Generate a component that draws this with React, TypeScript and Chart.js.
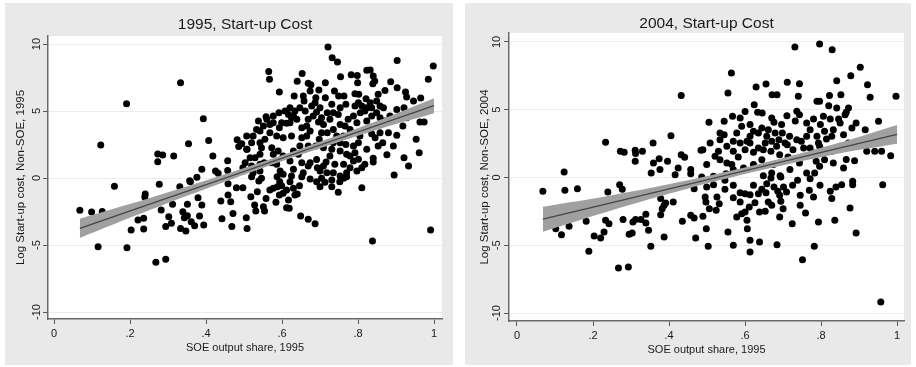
import React, { useEffect, useRef } from 'react';
import { Chart, registerables } from 'chart.js';

Chart.register(...registerables);

const FONT = "'Liberation Sans', Arial, Helvetica, sans-serif";

const xTickValues = [0, 0.2, 0.4, 0.6, 0.8, 1];
const yTickValues = [-10, -5, 0, 5, 10];

const titles = ['1995, Start-up Cost', '2004, Start-up Cost'];
const yTitles = ['Log Start-up cost, Non-SOE, 1995', 'Log Start-up cost, Non-SOE, 2004'];
const xTitle = 'SOE output share, 1995';

// 1995 panel: [SOE output share, log start-up cost]
const points1995: [number, number][] = [
  [0.333, 7.11], [0.191, 5.54], [0.123, 2.46], [0.393, 4.43], [0.354, 2.56], [0.407, 2.81], [0.482, 2.86], [0.486, 2.36],
  [0.273, 1.79], [0.286, 1.72], [0.273, 1.22], [0.315, 1.64], [0.418, 1.64], [0.457, 1.29], [0.389, 0.65], [0.425, 0.52],
  [0.432, 0.35], [0.457, 0.57], [0.497, 0.77], [0.508, 2.14], [0.376, 0.05], [0.357, -0.2],
  [0.068, -2.41], [0.099, -2.54], [0.127, -2.49], [0.159, -0.62], [0.116, -5.12], [0.192, -5.2], [0.268, -6.29], [0.294, -6.07],
  [0.277, -0.47], [0.24, -1.19], [0.239, -1.42], [0.203, -3.88], [0.236, -3.81], [0.221, -3.13], [0.236, -3.01], [0.282, -2.39],
  [0.294, -3.61], [0.302, -2.89], [0.309, -3.38], [0.312, -1.96], [0.331, -0.65], [0.333, -3.76], [0.347, -3.96], [0.339, -2.51],
  [0.343, -2.96], [0.351, -2.81], [0.351, -1.96], [0.359, -0.27], [0.361, -3.26], [0.37, -3.56], [0.379, -1.47], [0.389, -2.01],
  [0.383, -2.84], [0.394, -3.51], [0.439, -1.72], [0.442, -3.04], [0.458, -0.43], [0.458, -1.27], [0.465, -1.77], [0.471, -2.64],
  [0.468, -3.61], [0.48, -0.72], [0.497, -0.72], [0.506, -2.96], [0.508, -3.76],
  [0.518, -1.39], [0.528, -2.01], [0.531, -2.46], [0.551, -2.14], [0.554, -2.46], [0.535, -1.02], [0.539, -0.22], [0.558, -1.52],
  [0.568, -0.9], [0.584, -1.81], [0.593, -1.27], [0.599, -0.57], [0.612, -0.9], [0.612, -2.21], [0.617, -1.64], [0.619, -2.26],
  [0.63, -0.77], [0.64, -1.19], [0.646, -0.57], [0.649, -2.84], [0.669, -3.08], [0.687, -3.41], [0.674, -0.07], [0.691, -0.27],
  [0.7, -0.65], [0.731, -0.15], [0.731, -0.65], [0.748, -1.07], [0.762, -0.02], [0.77, 0.1], [0.81, -0.72], [0.838, -4.7],
  [0.991, -3.88],
  [0.52, 0.1], [0.546, -0.02], [0.587, 0.1], [0.594, -0.27], [0.621, -0.27], [0.652, 0.1], [0.704, -0.02], [0.713, -0.32],
  [0.752, -0.27], [0.588, -0.65], [0.603, -1.14], [0.634, -1.27], [0.577, -0.77],
  [0.721, 9.78], [0.732, 8.98], [0.746, 8.66], [0.903, 8.78], [0.998, 8.36], [0.985, 7.37], [0.565, 7.96], [0.567, 7.37],
  [0.653, 7.81], [0.593, 6.42], [0.64, 7.22], [0.669, 7.07], [0.676, 6.96], [0.674, 6.49], [0.697, 6.57], [0.714, 7.11],
  [0.632, 6.12], [0.656, 6.12], [0.658, 5.75], [0.689, 5.99], [0.714, 5.99], [0.738, 6.49], [0.749, 6.12], [0.763, 6.12],
  [0.754, 7.56], [0.782, 7.71], [0.798, 7.66], [0.823, 8.04], [0.832, 8.06], [0.84, 7.61], [0.844, 7.24], [0.839, 7.04],
  [0.799, 7.11], [0.792, 6.29], [0.802, 6.25], [0.821, 5.92], [0.853, 6.25], [0.871, 6.54], [0.886, 7.19], [0.903, 6.74],
  [0.925, 6.42], [0.928, 6.04], [0.946, 5.75], [0.965, 5.97], [0.849, 5.75], [0.858, 5.37], [0.867, 5.25], [0.921, 5.25],
  [0.963, 4.18], [0.974, 4.18], [0.953, 2.89], [0.961, 1.89], [0.921, 1.51], [0.933, 0.9], [0.895, 0.22], [0.876, 1.74],
  [0.902, 3.19], [0.918, 3.88], [0.84, 1.47], [0.853, 2.39], [0.865, 2.63], [0.823, 2.14], [0.818, 1.02], [0.84, 1.19],
  [0.836, 3.31], [0.845, 3.01], [0.805, 3.13], [0.801, 2.63], [0.792, 1.89], [0.779, 1.64], [0.801, 1.4], [0.797, 0.52],
  [0.81, 0.77], [0.779, 0.77], [0.77, 0.4], [0.753, 0.15], [0.735, 0.4], [0.739, 1.02], [0.716, 1.19], [0.718, 0.4],
  [0.7, 0.52], [0.693, 0.77], [0.674, 1.14], [0.652, 1.14], [0.656, 0.4], [0.63, 0.65], [0.625, 0.15], [0.603, 0.28],
  [0.595, 0.52], [0.573, 1.14], [0.577, 1.77], [0.59, 2.01], [0.542, 0.52], [0.524, 0.4], [0.498, 0.52], [0.516, 1.51],
  [0.529, 1.51], [0.507, 2.14], [0.542, 2.63], [0.546, 2.26], [0.573, 2.26], [0.542, 3.51], [0.551, 3.88], [0.56, 4.38],
  [0.538, 4.25], [0.533, 3.63], [0.558, 4.57], [0.577, 4.13], [0.599, 4.13], [0.603, 3.01], [0.621, 4.13], [0.63, 4.63],
  [0.621, 5.25], [0.634, 5.0], [0.617, 4.75], [0.639, 4.38], [0.652, 3.75], [0.665, 3.88], [0.674, 3.51], [0.665, 3.13],
  [0.669, 2.39], [0.647, 2.39], [0.625, 3.13], [0.643, 1.77], [0.678, 5.37], [0.687, 5.62], [0.7, 5.25], [0.691, 4.93],
  [0.704, 4.5], [0.719, 4.87], [0.726, 4.38], [0.704, 3.38], [0.719, 3.38], [0.698, 2.89], [0.689, 2.39], [0.709, 2.26],
  [0.731, 2.14], [0.726, 1.64], [0.748, 4.75], [0.753, 4.0], [0.766, 3.88], [0.774, 4.38], [0.788, 4.63], [0.792, 5.37],
  [0.801, 5.62], [0.81, 5.37], [0.818, 5.0], [0.832, 5.62], [0.836, 4.63], [0.823, 4.25], [0.768, 2.51], [0.762, 3.13],
  [0.753, 2.63], [0.768, 5.5],
  [0.608, 5.0], [0.625, 4.5], [0.612, 4.08], [0.593, 3.76], [0.586, 3.13], [0.568, 3.38], [0.555, 2.89], [0.524, 3.13],
  [0.52, 2.64], [0.507, 3.13], [0.494, 2.55], [0.503, 1.14], [0.553, 1.14], [0.542, 1.77], [0.603, 1.64], [0.621, 1.27],
  [0.63, 2.01], [0.652, 3.01], [0.669, 4.38], [0.682, 4.63], [0.696, 4.18], [0.709, 4.0], [0.735, 3.63], [0.744, 3.13],
  [0.735, 2.64], [0.753, 2.01], [0.77, 1.77], [0.788, 2.39], [0.779, 3.63], [0.797, 4.13], [0.806, 4.87], [0.823, 5.25],
  [0.836, 5.25], [0.849, 4.87], [0.858, 4.5], [0.871, 4.25], [0.884, 4.63], [0.902, 5.12], [0.91, 4.63], [0.928, 4.5],
  [0.88, 3.38], [0.893, 2.39], [0.858, 3.38], [0.731, 5.5], [0.753, 5.25], [0.735, 4.87], [0.661, 5.0], [0.647, 5.25],
  [0.592, 4.87], [0.577, 4.63], [0.568, 4.0], [0.669, 0.9], [0.691, 1.39], [0.762, 1.02], [0.788, 1.27], [0.709, 0.9],
  [0.586, 1.02], [0.542, 1.02], [0.52, 0.9],
];

// 2004 panel: [SOE output share, log start-up cost]
const points2004: [number, number][] = [
  [0.432, 6.04], [0.233, 2.6], [0.272, 1.93], [0.282, 1.86], [0.311, 2.01], [0.312, 1.76], [0.33, 1.93], [0.358, 2.55],
  [0.405, 3.08], [0.311, 1.2], [0.359, 1.07], [0.374, 1.39], [0.396, 1.2], [0.376, 0.58], [0.432, 1.68], [0.441, 1.49],
  [0.484, 2.01], [0.424, 0.7], [0.457, 0.58], [0.416, 0.21], [0.353, 0.33], [0.124, 0.4], [0.505, 4.07],
  [0.068, -1.02], [0.126, -0.94], [0.159, -0.83], [0.117, -4.22], [0.137, -3.6], [0.102, -3.78], [0.189, -5.45], [0.182, -3.23],
  [0.203, -4.32], [0.22, -4.46], [0.229, -4.02], [0.239, -1.07], [0.233, -3.16], [0.242, -3.41], [0.27, -0.53], [0.277, -0.87],
  [0.267, -6.68], [0.293, -6.61], [0.279, -3.11], [0.295, -4.19], [0.303, -4.1], [0.305, -3.28], [0.312, -3.11], [0.326, -3.11],
  [0.339, -2.72], [0.339, -3.36], [0.346, -3.9], [0.352, -5.08], [0.387, -4.39], [0.378, -2.75], [0.382, -2.3], [0.387, -2.05],
  [0.391, -1.88], [0.378, -1.56], [0.411, -1.81], [0.435, -3.23], [0.457, -2.79], [0.466, -2.99], [0.489, -2.86], [0.47, -4.46],
  [0.498, -3.78], [0.503, -5.08], [0.495, -1.44], [0.497, -1.81], [0.466, -0.83], [0.457, 0.28], [0.486, 0.04],
  [0.957, -9.19], [0.962, -0.53], [0.892, -4.1], [0.876, -2.25], [0.836, -3.16], [0.793, -3.28], [0.782, -5.08], [0.751, -6.07],
  [0.759, -2.62], [0.724, -3.41], [0.691, -2.92], [0.684, -4.96], [0.638, -4.76], [0.613, -4.64], [0.613, -5.5], [0.606, -3.78],
  [0.605, -3.16], [0.569, -5.0], [0.555, -4.02], [0.578, -2.92], [0.591, -2.67], [0.6, -2.55], [0.506, -2.3], [0.524, -2.42],
  [0.532, -1.93], [0.526, -1.44], [0.569, -1.49], [0.547, -0.87], [0.517, -0.53], [0.587, -1.12], [0.6, -1.2], [0.613, -1.27],
  [0.611, -2.18], [0.626, -1.86], [0.638, -2.55], [0.653, -2.49], [0.635, -1.2], [0.644, -0.87], [0.655, -1.12], [0.661, -1.81],
  [0.67, -2.05], [0.676, -0.7], [0.691, -1.31], [0.694, -1.76], [0.686, -1.02], [0.701, -0.7], [0.725, -0.58], [0.738, -0.21],
  [0.769, -0.94], [0.78, -1.44], [0.824, -1.02], [0.839, -0.7], [0.854, -0.53], [0.883, -0.53], [0.883, -0.28], [0.771, -0.09],
  [0.668, -0.04], [0.694, 0.04], [0.547, -0.21], [0.55, 0.28], [0.499, -0.7],
  [0.569, -0.58], [0.622, -0.58], [0.657, -0.46], [0.709, -1.07], [0.745, -1.32], [0.797, -0.58], [0.828, -1.56], [0.7, -2.3],
  [0.745, -2.05], [0.587, -1.81],
  [0.731, 9.63], [0.796, 9.85], [0.829, 9.43], [0.564, 7.71], [0.555, 6.24], [0.903, 8.13], [0.878, 7.51], [0.841, 7.14],
  [0.922, 6.85], [0.929, 5.92], [0.997, 5.99], [0.629, 6.68], [0.655, 6.9], [0.711, 7.03], [0.743, 6.92], [0.671, 6.11],
  [0.684, 6.11], [0.74, 5.99], [0.822, 6.04], [0.852, 6.11], [0.789, 5.62], [0.796, 5.62], [0.82, 5.3], [0.841, 5.13],
  [0.872, 5.13], [0.624, 5.37], [0.633, 4.81], [0.645, 4.76], [0.6, 4.86], [0.587, 4.39], [0.567, 4.52], [0.545, 4.15],
  [0.71, 4.56], [0.736, 4.89], [0.743, 4.63], [0.732, 4.17], [0.676, 4.07], [0.78, 4.32], [0.798, 3.9], [0.824, 4.32],
  [0.846, 4.32], [0.863, 4.63], [0.866, 4.81], [0.892, 4.02], [0.951, 4.15], [0.881, 3.65], [0.916, 3.53], [0.859, 3.16],
  [0.832, 3.53], [0.809, 3.41], [0.789, 3.04], [0.814, 2.84], [0.771, 3.53], [0.762, 3.04], [0.748, 2.67], [0.717, 3.04],
  [0.698, 3.28], [0.689, 2.79], [0.711, 2.42], [0.726, 2.05], [0.683, 2.3], [0.67, 2.67], [0.661, 3.53], [0.644, 3.65],
  [0.635, 3.28], [0.622, 3.41], [0.613, 3.04], [0.605, 2.67], [0.653, 2.55], [0.648, 2.05], [0.668, 1.93], [0.587, 2.55],
  [0.569, 2.67], [0.552, 2.3], [0.534, 3.28], [0.545, 3.16], [0.53, 1.93], [0.521, 1.56], [0.489, 2.05], [0.569, 1.93],
  [0.582, 1.51], [0.6, 2.05], [0.622, 1.86], [0.644, 1.31], [0.691, 1.68], [0.713, 1.51], [0.771, 2.18], [0.796, 2.3],
  [0.78, 1.81], [0.828, 1.93], [0.809, 1.31], [0.832, 1.07], [0.859, 0.7], [0.888, 1.24], [0.92, 1.93], [0.941, 1.93],
  [0.959, 1.93], [0.983, 1.61], [0.517, 0.09], [0.569, 0.58], [0.596, 0.7], [0.552, 1.07], [0.534, 1.31], [0.718, 0.58],
  [0.762, 0.33], [0.783, 0.33], [0.796, 0.83], [0.692, 0.13], [0.67, 0.33], [0.648, 0.13],
  [0.534, 2.79], [0.578, 3.28], [0.613, 2.55], [0.635, 2.18], [0.657, 3.04], [0.679, 3.28], [0.705, 2.55], [0.736, 2.79],
  [0.754, 2.18], [0.793, 2.55], [0.828, 3.04], [0.85, 2.3], [0.872, 2.55], [0.591, 3.78], [0.613, 3.9], [0.67, 4.39],
  [0.696, 3.9], [0.762, 4.02], [0.806, 4.51], [0.85, 4.02], [0.508, 2.55], [0.499, 0.95], [0.565, 0.95], [0.622, 0.95],
  [0.674, 0.95], [0.743, 1.07], [0.787, 1.2], [0.866, 1.32],
];

// Linear fit with 95% confidence band, read at a few SOE shares
const fitX = [0.068, 0.25, 0.45, 0.65, 0.85, 1.0];
const fit1995 = [-3.75, -1.96, 0.0, 1.97, 3.93, 5.4];
const ciLow1995 = [-4.47, -2.41, -0.28, 1.75, 3.61, 4.84];
const ciHigh1995 = [-3.03, -1.51, 0.28, 2.19, 4.25, 5.96];
const fit2004 = [-3.08, -1.86, -0.51, 0.83, 2.18, 3.18];
const ciLow2004 = [-4.0, -2.41, -0.81, 0.58, 1.78, 2.48];
const ciHigh2004 = [-2.16, -1.31, -0.21, 1.08, 2.58, 3.88];

type Geo = {
  left: number; top: number; w: number; h: number;
  yWidth: number; xHeight: number; padRight: number;
  titlePadTop: number; titlePadBottom: number;
  xMin: number; xMax: number; yMin: number; yMax: number;
  yTitlePad: number; yTickPad: number; xTickPad: number; xTitlePad: number;
};

const geos: Geo[] = [
  {
    left: 5, top: 3, w: 448, h: 362, yWidth: 43, xHeight: 46, padRight: 11,
    titlePadTop: 12.7, titlePadBottom: 1.7,
    xMin: -0.0158, xMax: 1.021, yMin: -10.52, yMax: 10.6,
    yTitlePad: 9.1, yTickPad: -2.25, xTickPad: 3.5, xTitlePad: 10.4,
  },
  {
    left: 465, top: 3, w: 446, h: 362, yWidth: 44, xHeight: 44, padRight: 7,
    titlePadTop: 11.2, titlePadBottom: 0.2,
    xMin: -0.021, xMax: 1.018, yMin: -10.59, yMax: 10.66,
    yTitlePad: 13.1, yTickPad: -1.25, xTickPad: 3.5, xTitlePad: 8.4,
  },
];

const plotBg = {
  id: 'plotBg',
  beforeDraw(chart: any) {
    const { ctx, chartArea: a } = chart;
    ctx.save();
    ctx.fillStyle = '#ffffff';
    ctx.fillRect(a.left, a.top, a.right - a.left, a.bottom - a.top);
    ctx.restore();
  },
};

const fmtX = (v: number) => (v === 0 ? '0' : v === 1 ? '1' : String(Math.round(v * 10) / 10).replace('0.', '.'));

function Panel({ idx }: { idx: number }) {
  const ref = useRef<HTMLCanvasElement | null>(null);
  const g = geos[idx];
  useEffect(() => {
    if (!ref.current) return;
    const pts = idx === 0 ? points1995 : points2004;
    const fit = idx === 0 ? fit1995 : fit2004;
    const lo = idx === 0 ? ciLow1995 : ciLow2004;
    const hi = idx === 0 ? ciHigh1995 : ciHigh2004;
    const chart = new Chart(ref.current, {
      type: 'scatter',
      data: {
        datasets: [
          {
            type: 'scatter',
            data: pts.map(([x, y]) => ({ x, y })),
            backgroundColor: '#000000',
            borderWidth: 0,
            pointRadius: 3.5,
            order: 3,
          } as any,
          {
            type: 'line',
            data: fitX.map((x, i) => ({ x, y: lo[i] })),
            borderWidth: 0,
            borderColor: 'rgba(0,0,0,0)',
            pointRadius: 0,
            tension: 0.3,
            fill: false,
            order: 2,
          } as any,
          {
            type: 'line',
            data: fitX.map((x, i) => ({ x, y: hi[i] })),
            borderWidth: 0,
            borderColor: 'rgba(0,0,0,0)',
            backgroundColor: '#a0a0a0',
            pointRadius: 0,
            tension: 0.3,
            fill: '-1',
            order: 2,
          } as any,
          {
            type: 'line',
            data: fitX.map((x, i) => ({ x, y: fit[i] })),
            borderWidth: 1.3,
            borderColor: '#454545',
            pointRadius: 0,
            tension: 0,
            fill: false,
            order: 1,
          } as any,
        ],
      },
      options: {
        responsive: false,
        animation: false,
        devicePixelRatio: 1,
        layout: { padding: { left: 0, top: 0, bottom: 0, right: g.padRight } },
        plugins: {
          legend: { display: false },
          tooltip: { enabled: false },
          title: {
            display: true,
            fullSize: false,
            text: titles[idx],
            color: '#1a1a1a',
            font: { family: FONT, size: 15.5, weight: 'normal', lineHeight: 1.2 },
            padding: { top: g.titlePadTop, bottom: g.titlePadBottom },
          },
        },
        scales: {
          x: {
            type: 'linear',
            min: g.xMin,
            max: g.xMax,
            afterBuildTicks: (s: any) => { s.ticks = xTickValues.map((v) => ({ value: v })); },
            afterFit: (s: any) => { s.height = g.xHeight; },
            ticks: {
              autoSkip: false,
              maxRotation: 0,
              minRotation: 0,
              padding: g.xTickPad,
              color: '#1a1a1a',
              font: { family: FONT, size: 11 },
              callback: (v: any) => fmtX(Number(v)),
            },
            grid: { drawOnChartArea: false, drawTicks: true, tickLength: 5, tickColor: '#555555', tickWidth: 1 },
            border: { display: true, color: '#6a6a6a', width: 1.5 },
            title: {
              display: true,
              text: xTitle,
              color: '#1a1a1a',
              font: { family: FONT, size: 11, lineHeight: 1.2 },
              padding: { top: 0, bottom: g.xTitlePad },
            },
          },
          y: {
            type: 'linear',
            min: g.yMin,
            max: g.yMax,
            afterBuildTicks: (s: any) => { s.ticks = yTickValues.map((v) => ({ value: v })); },
            afterFit: (s: any) => { s.width = g.yWidth; },
            ticks: {
              autoSkip: false,
              minRotation: 90,
              maxRotation: 90,
              crossAlign: 'center',
              padding: g.yTickPad,
              color: '#1a1a1a',
              font: { family: FONT, size: 11 },
              callback: (v: any) => String(v),
            },
            grid: { drawOnChartArea: true, color: '#ececec', lineWidth: 1, drawTicks: true, tickLength: 5, tickColor: '#555555', tickWidth: 1 },
            border: { display: true, color: '#6a6a6a', width: 1.5 },
            title: {
              display: true,
              text: yTitles[idx],
              color: '#1a1a1a',
              font: { family: FONT, size: 11.5, lineHeight: 1.2 },
              padding: { top: g.yTitlePad, bottom: 0 },
            },
          },
        },
      } as any,
      plugins: [plotBg],
    });
    return () => chart.destroy();
  }, [idx]);
  return (
    <div style={{ position: 'absolute', left: g.left, top: g.top, width: g.w, height: g.h, background: '#e9e9e9' }}>
      <canvas ref={ref} width={g.w} height={g.h} style={{ display: 'block', width: g.w, height: g.h }} />
    </div>
  );
}

export default function App() {
  return (
    <div style={{ position: 'absolute', left: 0, top: 0, width: 916, height: 367, background: '#ffffff', overflow: 'hidden' }}>
      <Panel idx={0} />
      <Panel idx={1} />
    </div>
  );
}
